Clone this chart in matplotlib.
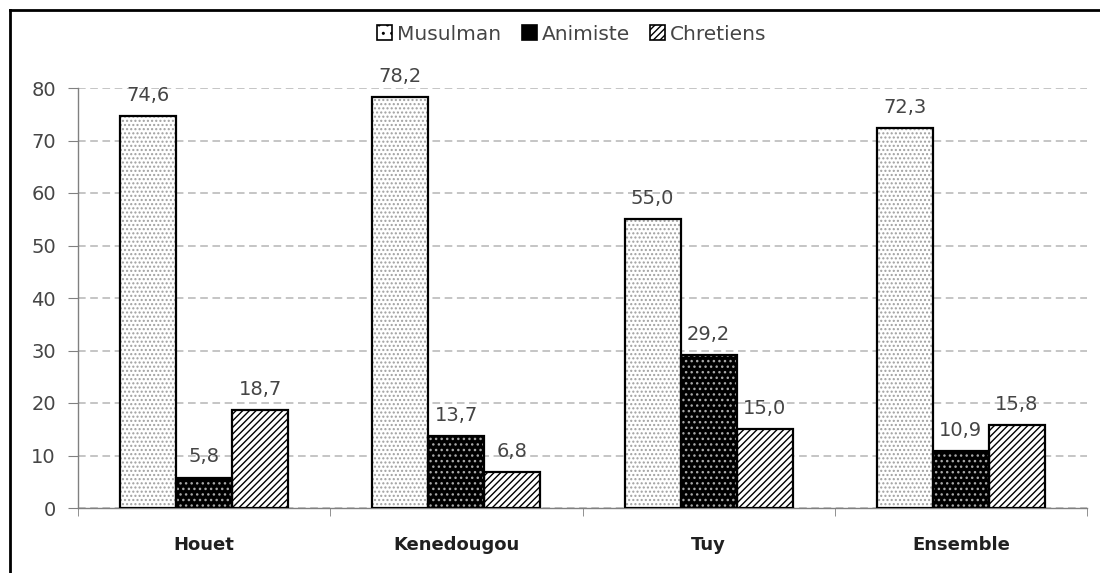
import matplotlib
matplotlib.use("Agg")
import matplotlib.pyplot as plt
import numpy as np
from matplotlib.patches import Patch
from matplotlib.lines import Line2D

categories = ["Houet", "Kenedougou", "Tuy", "Ensemble"]
series_names = ["Musulman", "Animiste", "Chretiens"]
musulman = [74.6, 78.2, 55.0, 72.3]
animiste = [5.8, 13.7, 29.2, 10.9]
chretiens = [18.7, 6.8, 15.0, 15.8]
yticks = [0, 10, 20, 30, 40, 50, 60, 70, 80]

plt.rcParams['font.family'] = ['DejaVu Sans']
plt.rcParams['hatch.linewidth'] = 1.0

fig = plt.figure(figsize=(11, 5.73), dpi=100)
ax = fig.add_axes([78/1100, 65/573, (1087-78)/1100, (508-88)/573])

x = np.arange(len(categories))
w = 0.222
styles = [
    dict(face="white", hatchcol="#a0a0a0", hatch="...."),
    dict(face="black", hatchcol="#a8a8a8", hatch="..."),
    dict(face="white", hatchcol="black", hatch="/////"),
]
data = [musulman, animiste, chretiens]
for i, (vals, st) in enumerate(zip(data, styles)):
    pos = x + (i - 1) * w
    ax.bar(pos, vals, width=w, color=st["face"], edgecolor=st["hatchcol"],
           hatch=st["hatch"], linewidth=0, zorder=3)
    ax.bar(pos, vals, width=w, fill=False, edgecolor="black", linewidth=1.6, zorder=4)
    for p, v in zip(pos, vals):
        ax.annotate(f"{v:.1f}".replace(".", ","), (p, v), xytext=(0, 8),
                    textcoords="offset points", ha="center", va="bottom",
                    fontsize=14, color="#454545", zorder=5)

ax.set_xlim(-0.5, len(categories) - 0.5)
ax.set_ylim(0, 80)
ax.set_yticks(yticks)
ax.set_yticklabels([str(t) for t in yticks], fontsize=14, color="#454545")
ax.yaxis.grid(True, linestyle=(0, (5, 3)), color="#b5b5b5", linewidth=1.1, zorder=0)
ax.set_axisbelow(True)

ax.set_xticks(x)
ax.set_xticklabels(categories, fontsize=13, fontweight="bold", color="#202020")
ax.tick_params(axis="x", length=0, pad=20)
ax.set_xticks(np.arange(-0.5, len(categories)), minor=True)
ax.tick_params(axis="x", which="minor", length=6, color="#808080", direction="out")
ax.tick_params(axis="y", length=7, color="#808080", pad=9)

for s in ["top", "right"]:
    ax.spines[s].set_visible(False)
for s in ["left", "bottom"]:
    ax.spines[s].set_color("#808080")
    ax.spines[s].set_linewidth(1.0)

handles = [
    Patch(facecolor=st["face"], edgecolor="black", hatch=st["hatch"] if i == 2 else st["hatch"][:2], linewidth=1.2)
    for i, st in enumerate(styles)
]
fig.legend(handles, series_names, loc="center", bbox_to_anchor=(572/1100, 1 - 34/573),
           ncol=3, frameon=False, fontsize=14.5, handlelength=0.75, handleheight=0.75,
           handletextpad=0.25, columnspacing=1.0, labelcolor="#454545")

# outer frame (partially visible)
fig.add_artist(Line2D([10/1100, 10/1100], [-0.1, 1 - 10/573], color="black", linewidth=2,
                      transform=fig.transFigure))
fig.add_artist(Line2D([10/1100, 1.1], [1 - 10/573, 1 - 10/573], color="black", linewidth=2,
                      transform=fig.transFigure))

fig.savefig("out.png", dpi=100)
